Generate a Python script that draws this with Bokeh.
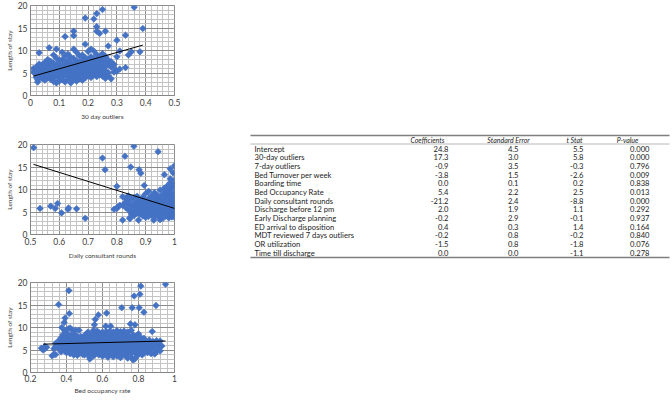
import numpy as np
from bokeh.plotting import figure
from bokeh.layouts import row, column
from bokeh.models import Range1d, SingleIntervalTicker, NumeralTickFormatter
from bokeh.embed import file_html
from bokeh.resources import INLINE
from bokeh.core.properties import value

# ---------------- data ----------------
pts_30day = [
    (0.01, 6.0), (0.01, 5.2), (0.02, 6.3), (0.02, 5.5), (0.02, 4.6), (0.02, 4.0), (0.025, 3.0), (0.025, 3.5),
    (0.03, 9.5), (0.03, 7.0), (0.03, 5.8), (0.03, 4.9), (0.03, 4.2), (0.04, 6.8), (0.04, 6.0), (0.04, 5.0),
    (0.04, 4.4), (0.04, 3.8), (0.05, 7.4), (0.05, 6.5), (0.05, 5.6), (0.05, 4.7), (0.05, 4.0), (0.05, 3.4),
    (0.06, 8.0), (0.06, 7.1), (0.06, 6.2), (0.06, 5.3), (0.06, 4.5), (0.06, 3.9), (0.065, 10.6),
    (0.07, 7.6), (0.07, 6.7), (0.07, 5.9), (0.07, 5.0), (0.07, 4.2), (0.07, 3.6),
    (0.08, 9.0), (0.08, 7.2), (0.08, 6.4), (0.08, 5.5), (0.08, 4.6), (0.08, 3.8), (0.08, 3.1),
    (0.09, 10.3), (0.09, 8.3), (0.09, 6.9), (0.09, 6.0), (0.09, 5.2), (0.09, 4.3), (0.09, 2.8),
    (0.10, 7.8), (0.10, 7.0), (0.10, 6.2), (0.10, 5.4), (0.10, 4.7), (0.10, 3.9), (0.10, 3.2),
    (0.11, 9.6), (0.11, 8.0), (0.11, 6.6), (0.11, 5.8), (0.11, 4.9), (0.11, 4.1), (0.11, 3.5),
    (0.12, 13.1), (0.12, 8.8), (0.12, 7.4), (0.12, 6.3), (0.12, 5.5), (0.12, 4.6), (0.12, 3.0),
    (0.13, 9.2), (0.13, 7.8), (0.13, 6.9), (0.13, 6.0), (0.13, 5.1), (0.13, 4.3), (0.13, 3.6),
    (0.14, 8.5), (0.14, 7.2), (0.14, 6.4), (0.14, 5.6), (0.14, 4.8), (0.14, 3.9), (0.14, 2.8),
    (0.15, 14.3), (0.15, 13.3), (0.15, 10.3), (0.15, 8.2), (0.15, 7.0), (0.15, 6.1), (0.15, 5.3), (0.15, 4.4), (0.15, 3.5),
    (0.16, 9.6), (0.16, 7.7), (0.16, 6.7), (0.16, 5.8), (0.16, 4.9), (0.16, 4.0), (0.16, 3.2),
    (0.17, 8.8), (0.17, 7.3), (0.17, 6.4), (0.17, 5.5), (0.17, 4.6), (0.17, 3.7),
    (0.18, 9.0), (0.18, 7.9), (0.18, 6.9), (0.18, 6.0), (0.18, 5.1), (0.18, 4.2), (0.18, 3.4),
    (0.19, 17.2), (0.19, 11.4), (0.19, 8.4), (0.19, 7.4), (0.19, 6.5), (0.19, 5.6), (0.19, 4.7), (0.19, 3.9),
    (0.20, 9.8), (0.20, 8.0), (0.20, 7.0), (0.20, 6.1), (0.20, 5.2), (0.20, 4.4),
    (0.21, 10.3), (0.21, 8.6), (0.21, 7.6), (0.21, 6.6), (0.21, 5.7), (0.21, 4.8), (0.21, 4.0),
    (0.22, 17.0), (0.22, 9.9), (0.22, 8.2), (0.22, 7.1), (0.22, 6.2), (0.22, 5.3), (0.22, 4.5),
    (0.23, 18.2), (0.23, 15.3), (0.23, 14.3), (0.23, 9.1), (0.23, 7.7), (0.23, 6.7), (0.23, 5.8), (0.23, 4.9), (0.23, 4.2),
    (0.24, 13.8), (0.24, 8.4), (0.24, 7.3), (0.24, 6.3), (0.24, 5.4), (0.24, 4.6),
    (0.25, 19.1), (0.25, 9.3), (0.25, 7.9), (0.25, 6.8), (0.25, 5.9), (0.25, 5.0), (0.25, 4.3),
    (0.26, 14.3), (0.26, 8.7), (0.26, 7.5), (0.26, 6.4), (0.26, 5.5), (0.26, 4.7), (0.26, 3.8),
    (0.27, 11.0), (0.27, 7.9), (0.27, 6.9), (0.27, 5.1), (0.27, 4.4), (0.28, 7.5), (0.28, 6.3), (0.28, 3.7),
    (0.29, 6.9), (0.29, 5.2), (0.295, 5.7), (0.30, 12.3), (0.30, 8.6), (0.30, 5.4), (0.31, 9.9), (0.31, 5.9),
    (0.33, 13.4), (0.33, 6.2), (0.34, 9.0), (0.35, 9.7), (0.36, 19.6), (0.38, 9.7), (0.39, 14.9),
]
trend_30day_x = [0.01, 0.39]
trend_30day_y = [4.3, 11.2]

pts_rounds = [
    (0.511, 19.3), (0.533, 5.8), (0.57, 6.3), (0.586, 5.8), (0.594, 6.9), (0.608, 4.8), (0.63, 5.6),
    (0.632, 5.9), (0.66, 5.7), (0.69, 3.6), (0.75, 17.0), (0.759, 14.4),
    (0.79, 5.6), (0.80, 5.8), (0.802, 6.1), (0.80, 10.7), (0.81, 6.5),
    (0.828, 17.4), (0.859, 19.6), (0.848, 15.0), (0.877, 14.4), (0.883, 13.6), (0.943, 18.4),
    (0.82, 8.4), (0.82, 6.5), (0.82, 3.2), (0.83, 8.0), (0.83, 7.2), (0.83, 6.0),
    (0.84, 8.6), (0.84, 7.5), (0.84, 6.8), (0.84, 5.5), (0.845, 3.7), (0.845, 3.5),
    (0.85, 7.9), (0.85, 6.4), (0.85, 5.2), (0.85, 4.6),
    (0.86, 8.2), (0.86, 7.0), (0.86, 6.0), (0.86, 5.0), (0.86, 4.2),
    (0.87, 8.5), (0.87, 7.3), (0.87, 6.5), (0.87, 5.6), (0.87, 4.8), (0.875, 3.2),
    (0.88, 7.8), (0.88, 6.9), (0.88, 6.1), (0.88, 5.3), (0.88, 4.5),
    (0.89, 8.3), (0.89, 7.2), (0.89, 6.4), (0.89, 5.6), (0.89, 4.8), (0.89, 4.1), (0.895, 10.9),
    (0.90, 9.1), (0.90, 7.6), (0.90, 6.8), (0.90, 6.0), (0.90, 5.2), (0.90, 4.4), (0.90, 3.8),
    (0.91, 9.6), (0.91, 8.0), (0.91, 7.1), (0.91, 6.3), (0.91, 5.5), (0.91, 4.7), (0.91, 4.0),
    (0.92, 8.6), (0.92, 7.5), (0.92, 6.7), (0.92, 5.8), (0.92, 5.0), (0.92, 4.3), (0.928, 3.2),
    (0.93, 9.3), (0.93, 8.1), (0.93, 7.0), (0.93, 6.2), (0.93, 5.4), (0.93, 4.6), (0.93, 3.9),
    (0.94, 8.8), (0.94, 7.7), (0.94, 6.8), (0.94, 5.9), (0.94, 5.1), (0.94, 4.2),
    (0.95, 9.9), (0.95, 8.3), (0.95, 7.3), (0.95, 6.4), (0.95, 5.6), (0.95, 4.8), (0.95, 4.0), (0.95, 3.3),
    (0.96, 9.0), (0.96, 7.9), (0.96, 6.9), (0.96, 6.0), (0.96, 5.2), (0.96, 4.4), (0.96, 3.6),
    (0.965, 13.3), (0.965, 10.3),
    (0.97, 9.5), (0.97, 8.5), (0.97, 7.5), (0.97, 6.6), (0.97, 5.7), (0.97, 4.9), (0.97, 4.1), (0.975, 10.8),
    (0.98, 9.8), (0.98, 8.8), (0.98, 7.8), (0.98, 6.9), (0.98, 6.0), (0.98, 5.2), (0.98, 4.4), (0.98, 3.7),
    (0.985, 14.6), (0.985, 12.4), (0.985, 11.5),
    (0.99, 10.5), (0.99, 9.2), (0.99, 8.2), (0.99, 7.2), (0.99, 6.3), (0.99, 5.4), (0.99, 4.6), (0.99, 3.9),
    (0.995, 13.7), (0.995, 11.0),
    (1.0, 15.3), (1.0, 12.1), (1.0, 10.2), (1.0, 9.0), (1.0, 8.0), (1.0, 7.1), (1.0, 6.2), (1.0, 5.3), (1.0, 4.5), (1.0, 3.8),
]
trend_rounds_x = [0.51, 1.0]
trend_rounds_y = [15.6, 5.8]

pts_occupancy = [
    (0.26, 5.4), (0.27, 5.0), (0.28, 5.8), (0.28, 5.3), (0.29, 5.6), (0.32, 3.7), (0.33, 4.0), (0.33, 5.3),
    (0.34, 6.5), (0.34, 5.8), (0.34, 4.0), (0.356, 15.1), (0.36, 7.2), (0.36, 6.1), (0.36, 5.2),
    (0.37, 7.7), (0.37, 6.6), (0.37, 5.5), (0.37, 4.6), (0.374, 10.0),
    (0.38, 8.4), (0.38, 7.0), (0.38, 6.0), (0.38, 5.1), (0.387, 11.1),
    (0.39, 9.3), (0.39, 7.6), (0.39, 6.4), (0.39, 5.6), (0.39, 4.8), (0.392, 12.1),
    (0.40, 8.6), (0.40, 7.1), (0.40, 6.2), (0.40, 5.3), (0.40, 4.4),
    (0.41, 9.7), (0.41, 8.0), (0.41, 6.8), (0.41, 5.8), (0.41, 4.9), (0.413, 18.2), (0.416, 13.1),
    (0.42, 9.9), (0.42, 8.3), (0.42, 7.2), (0.42, 6.0), (0.42, 5.1), (0.42, 4.2),
    (0.43, 9.5), (0.43, 7.6), (0.43, 6.5), (0.43, 5.5), (0.43, 4.6),
    (0.44, 8.5), (0.44, 7.0), (0.44, 5.9), (0.44, 5.0), (0.44, 3.9),
    (0.45, 9.4), (0.45, 7.8), (0.45, 6.4), (0.45, 5.4), (0.45, 4.5),
    (0.46, 8.1), (0.46, 6.8), (0.46, 5.7), (0.46, 4.8), (0.46, 3.8),
    (0.47, 9.4), (0.47, 7.4), (0.47, 6.2), (0.47, 5.2), (0.47, 4.3),
    (0.48, 8.0), (0.48, 6.6), (0.48, 5.6), (0.48, 4.6), (0.49, 7.2), (0.49, 6.0), (0.49, 5.0), (0.49, 4.0),
    (0.50, 8.2), (0.50, 6.9), (0.50, 5.8), (0.50, 4.8), (0.50, 3.9),
    (0.51, 8.6), (0.51, 7.4), (0.51, 6.3), (0.51, 5.3), (0.51, 4.4),
    (0.52, 9.0), (0.52, 7.8), (0.52, 6.7), (0.52, 5.6), (0.52, 4.6), (0.52, 3.8),
    (0.53, 8.1), (0.53, 7.0), (0.53, 5.9), (0.53, 4.9), (0.53, 3.0),
    (0.54, 8.6), (0.54, 7.4), (0.54, 6.2), (0.54, 5.2), (0.54, 4.2),
    (0.55, 9.4), (0.55, 7.9), (0.55, 6.8), (0.55, 5.7), (0.55, 4.6), (0.55, 3.7), (0.555, 10.6),
    (0.56, 11.8), (0.56, 8.4), (0.56, 7.2), (0.56, 6.1), (0.56, 5.0), (0.56, 4.1),
    (0.57, 9.2), (0.57, 7.6), (0.57, 6.5), (0.57, 5.4), (0.57, 4.4), (0.577, 12.8),
    (0.58, 8.9), (0.58, 7.9), (0.58, 6.8), (0.58, 5.8), (0.58, 4.8), (0.58, 3.9),
    (0.59, 8.2), (0.59, 7.1), (0.59, 6.1), (0.59, 5.1), (0.59, 4.2),
    (0.60, 9.0), (0.60, 7.5), (0.60, 6.4), (0.60, 5.4), (0.60, 4.5), (0.60, 3.6),
    (0.61, 8.3), (0.61, 7.0), (0.61, 5.9), (0.61, 4.9), (0.61, 4.0), (0.618, 10.3),
    (0.62, 9.1), (0.62, 7.7), (0.62, 6.6), (0.62, 5.5), (0.62, 4.6), (0.623, 13.2),
    (0.63, 8.6), (0.63, 7.2), (0.63, 6.1), (0.63, 5.1), (0.63, 4.1), (0.63, 3.4),
    (0.64, 9.2), (0.64, 7.9), (0.64, 6.7), (0.64, 5.6), (0.64, 4.6), (0.645, 10.3),
    (0.65, 8.4), (0.65, 7.2), (0.65, 6.1), (0.65, 5.0), (0.65, 4.0),
    (0.66, 9.0), (0.66, 7.6), (0.66, 6.5), (0.66, 5.4), (0.66, 4.4), (0.66, 3.5),
    (0.67, 8.2), (0.67, 7.0), (0.67, 5.9), (0.67, 4.8),
    (0.68, 9.3), (0.68, 7.8), (0.68, 6.6), (0.68, 5.5), (0.68, 4.5), (0.68, 3.7),
    (0.69, 8.6), (0.69, 7.3), (0.69, 6.1), (0.69, 5.0), (0.69, 4.0),
    (0.70, 9.1), (0.70, 7.7), (0.70, 6.5), (0.70, 5.4), (0.70, 4.4), (0.70, 3.3), (0.707, 14.4),
    (0.71, 8.5), (0.71, 7.2), (0.71, 6.0), (0.71, 4.9), (0.71, 3.9),
    (0.72, 9.2), (0.72, 7.8), (0.72, 6.6), (0.72, 5.5), (0.72, 4.5),
    (0.73, 8.3), (0.73, 7.0), (0.73, 5.9), (0.73, 4.8), (0.73, 3.7),
    (0.74, 9.0), (0.74, 7.5), (0.74, 6.3), (0.74, 5.2), (0.74, 4.2), (0.74, 3.2),
    (0.75, 8.1), (0.75, 6.9), (0.75, 5.7), (0.75, 4.6), (0.755, 10.8),
    (0.76, 9.4), (0.76, 7.6), (0.76, 6.4), (0.76, 5.3), (0.76, 4.3), (0.76, 3.4), (0.765, 14.4),
    (0.77, 8.4), (0.77, 7.1), (0.77, 5.9), (0.77, 4.8), (0.77, 2.8), (0.776, 17.0),
    (0.78, 10.6), (0.78, 7.7), (0.78, 6.5), (0.78, 5.4), (0.78, 4.4), (0.78, 3.0),
    (0.79, 8.1), (0.79, 6.9), (0.79, 5.8), (0.79, 4.7), (0.79, 3.6),
    (0.80, 8.6), (0.80, 7.4), (0.80, 6.2), (0.80, 5.1), (0.80, 4.1),
    (0.804, 14.4), (0.808, 17.4), (0.813, 19.2),
    (0.81, 7.9), (0.81, 6.7), (0.81, 5.6), (0.81, 4.5), (0.82, 7.2), (0.82, 6.0), (0.82, 4.9), (0.82, 3.9),
    (0.83, 13.4), (0.83, 7.6), (0.83, 6.4), (0.83, 5.3), (0.83, 4.3),
    (0.84, 7.0), (0.84, 5.8), (0.84, 4.7), (0.85, 6.6), (0.85, 5.4), (0.85, 4.4),
    (0.86, 7.2), (0.86, 6.0), (0.86, 4.9), (0.87, 6.4), (0.87, 5.3), (0.87, 4.2), (0.876, 9.1),
    (0.88, 6.9), (0.88, 5.7), (0.89, 6.2), (0.89, 5.0), (0.89, 4.1), (0.897, 14.9),
    (0.90, 7.1), (0.90, 5.6), (0.90, 4.6), (0.91, 6.5), (0.91, 5.2),
    (0.92, 7.0), (0.92, 6.0), (0.92, 4.8), (0.93, 5.9), (0.95, 19.6),
]
trend_occupancy_x = [0.27, 0.95]
trend_occupancy_y = [6.3, 7.0]

table_rows = ["Intercept", "30-day outliers", "7-day outliers", "Bed Turnover per week", "Boarding time",
              "Bed Occupancy Rate", "Daily consultant rounds", "Discharge before 12 pm",
              "Early Discharge planning", "ED arrival to disposition", "MDT reviewed 7 days outliers",
              "OR utilization", "Time till discharge"]
coefficients = [24.8, 17.3, -0.9, -3.8, 0.0, 5.4, -21.2, 2.0, -0.2, 0.4, -0.2, -1.5, 0.0]
std_errors = [4.5, 3.0, 3.5, 1.5, 0.1, 2.2, 2.4, 1.9, 2.9, 0.3, 0.8, 0.8, 0.0]
t_stats = [5.5, 5.8, -0.3, -2.6, 0.2, 2.5, -8.8, 1.1, -0.1, 1.4, -0.2, -1.8, -1.1]
p_values = [0.000, 0.000, 0.796, 0.009, 0.838, 0.013, 0.000, 0.292, 0.937, 0.164, 0.840, 0.076, 0.278]
table_headers = ["Coefficients", "Standard Error", "t Stat", "P-value"]

# ---------------- styling ----------------
BLUE = "#4472C4"
FONT = "Lato"
COL_W = 200
FRAME_H = 90


def scatter_fig(pts, tx, ty, xr, xint, xlabel, border_top, border_bottom, frame_w, xstand=(3, 4)):
    xs = [p[0] for p in pts]
    ys = [p[1] for p in pts]
    left_b = 30
    p = figure(width=COL_W, height=border_top + FRAME_H + border_bottom,
               x_range=Range1d(*xr), y_range=Range1d(0, 20),
               output_backend="svg", toolbar_location=None,
               min_border_left=left_b, min_border_right=COL_W - left_b - frame_w,
               min_border_top=border_top, min_border_bottom=border_bottom)
    p.xaxis.ticker = SingleIntervalTicker(interval=xint, num_minor_ticks=5)
    p.yaxis.ticker = SingleIntervalTicker(interval=5, num_minor_ticks=5)
    p.xaxis.formatter = NumeralTickFormatter(format="0.[0]")
    for ax in (p.xaxis[0], p.yaxis[0]):
        ax.axis_line_color = "#868686"
        ax.major_tick_line_color = None
        ax.minor_tick_line_color = None
        ax.major_tick_out = 0
        ax.major_tick_in = 0
        ax.minor_tick_out = 0
        ax.minor_tick_in = 0
        ax.major_label_text_font = FONT
        ax.major_label_text_font_size = "8.5px"
        ax.major_label_text_color = "#404040"
        ax.axis_label_text_font = FONT
        ax.axis_label_text_font_size = "6.5px"
        ax.axis_label_text_font_style = "normal"
        ax.axis_label_text_color = "#404040"
        ax.major_label_standoff = 3
        ax.axis_label_standoff = 2
    p.xaxis.major_label_standoff = xstand[0]
    p.xaxis.axis_label_standoff = xstand[1]
    p.xaxis.axis_label = xlabel
    p.yaxis.axis_label = "Length of stay"
    for g in (p.xgrid[0], p.ygrid[0]):
        g.grid_line_color = "#8c8c8c"
        g.grid_line_width = 1
        g.minor_grid_line_color = "#c4c4c4"
        g.minor_grid_line_width = 1
    p.outline_line_color = "#8c8c8c"
    p.background_fill_color = "white"
    p.border_fill_color = "white"
    p.scatter(xs, ys, marker="square", angle=np.pi / 4, size=4.7, fill_color=BLUE,
              line_color=BLUE, line_width=0.6)
    p.line(tx, ty, line_color="black", line_width=1)
    return p


f1 = scatter_fig(pts_30day, trend_30day_x, trend_30day_y, (0, 0.5), 0.1, "30 day outliers", 5, 41, 144)
f2 = scatter_fig(pts_rounds, trend_rounds_x, trend_rounds_y, (0.5, 1.0), 0.1, "Daily consultant rounds", 8, 40, 150)
f3 = scatter_fig(pts_occupancy, trend_occupancy_x, trend_occupancy_y, (0.2, 1.0), 0.2, "Bed occupancy rate", 8, 28, 150,
                 xstand=(2, 2))

# ---------------- table ----------------
TW, TH = 672 - COL_W, 399
t = figure(width=TW, height=TH, x_range=Range1d(COL_W, 672), y_range=Range1d(TH, 0),
           output_backend="svg", toolbar_location=None, min_border=0)
t.axis.visible = False
t.grid.visible = False
t.outline_line_color = None

left, right = 250, 669
label_x = 254
row_y0, row_dy = 148, 8.67
header_y = 139.5
col_right = [448, 518, 583, 649]
head_center = [427, 508, 574, 627]

t.segment(x0=[left], y0=[135], x1=[right], y1=[135], line_color="#7f7f7f", line_width=1.5)
t.segment(x0=[left], y0=[143.5], x1=[right], y1=[143.5], line_color="#a6a6a6", line_width=0.8)
t.segment(x0=[left], y0=[257], x1=[right], y1=[257], line_color="#7f7f7f", line_width=1.5)

t.text(x=head_center, y=[header_y] * 4, text=table_headers, text_font=value(FONT),
       text_font_size="7px", text_font_style="italic", text_align="center",
       text_baseline="middle", text_color="#222222")

ys_rows = [row_y0 + i * row_dy for i in range(len(table_rows))]
t.text(x=[label_x] * len(table_rows), y=ys_rows, text=table_rows, text_font=value(FONT),
       text_font_size="7.6px", text_align="left", text_baseline="middle", text_color="#222222")
cols = [[f"{v:.1f}" for v in coefficients], [f"{v:.1f}" for v in std_errors],
        [f"{v:.1f}" for v in t_stats], [f"{v:.3f}" for v in p_values]]
for cx, vals in zip(col_right, cols):
    t.text(x=[cx] * len(vals), y=ys_rows, text=vals, text_font=value(FONT),
           text_font_size="7.6px", text_align="right", text_baseline="middle", text_color="#222222")

layout = row(column(f1, f2, f3), t)
open("out.html", "w").write(file_html(layout, INLINE))
